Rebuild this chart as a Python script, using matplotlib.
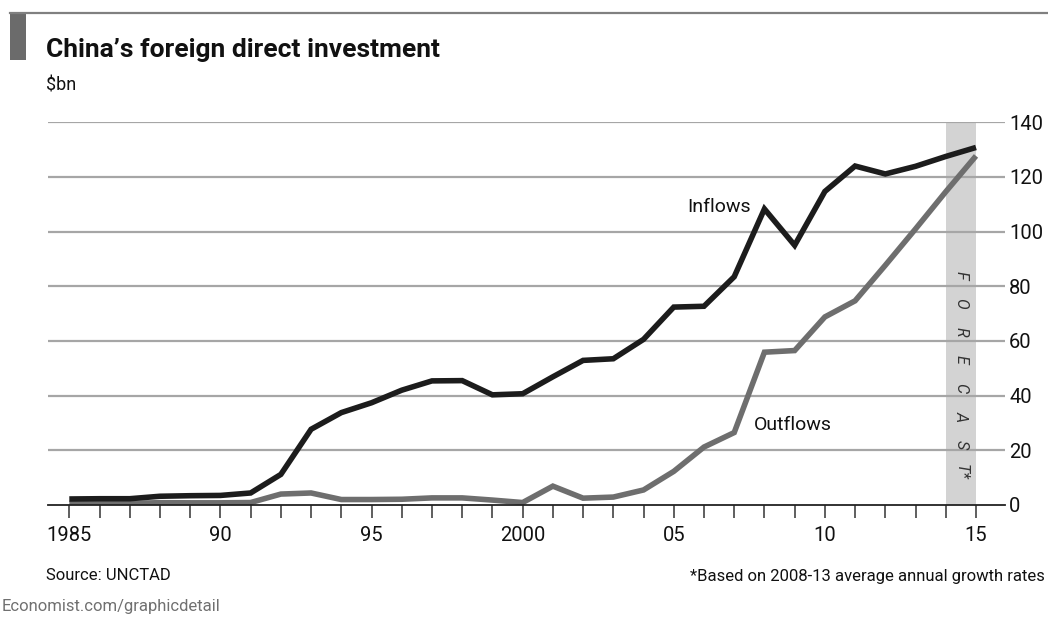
"""China's foreign direct investment, inflows vs outflows, 1985-2015 ($bn)."""

import matplotlib.pyplot as plt
from matplotlib.patches import Rectangle
from matplotlib.lines import Line2D

plt.rcParams["font.family"] = ["Roboto", "DejaVu Sans"]

years = [1985, 1986, 1987, 1988, 1989, 1990, 1991, 1992, 1993, 1994, 1995,
         1996, 1997, 1998, 1999, 2000, 2001, 2002, 2003, 2004, 2005, 2006,
         2007, 2008, 2009, 2010, 2011, 2012, 2013, 2014, 2015]
inflows = [2.2, 2.3, 2.3, 3.2, 3.4, 3.5, 4.4, 11.2, 27.7, 33.8, 37.4,
           42.0, 45.4, 45.5, 40.3, 40.7, 46.9, 52.9, 53.5, 60.6, 72.4, 72.7,
           83.5, 108.3, 95.0, 114.7, 124.0, 121.1, 123.9, 127.5, 130.8]
outflows = [0.6, 0.5, 0.6, 0.85, 0.8, 0.8, 0.9, 4.0, 4.4, 2.0, 2.0,
            2.1, 2.6, 2.6, 1.8, 0.9, 6.9, 2.5, 2.9, 5.5, 12.3, 21.2,
            26.5, 55.9, 56.5, 68.8, 74.7, 87.7, 101.0, 114.6, 127.7]
forecast_span = (2014, 2015)
forecast_word = ["F", "O", "R", "E", "C", "A", "S", "T*"]
major_years = [1985, 1990, 1995, 2000, 2005, 2010, 2015]
major_labels = ["1985", "90", "95", "2000", "05", "10", "15"]
y_ticks = [0, 20, 40, 60, 80, 100, 120, 140]

W, H = 1048, 617
fig = plt.figure(figsize=(W / 100, H / 100), dpi=100)
fig.patch.set_facecolor("white")

# axes placed in pixel terms: left 48, right 1005, zero line at 505, 140 at 122
ax = fig.add_axes([48 / W, 1 - 505 / H, (1005 - 48) / W, (505 - 122.3) / H])
ax.set_xlim(1984.295, 2015.96)
ax.set_ylim(0, 140)

# forecast band with its vertical, letter-spaced label
ax.axvspan(*forecast_span, color="#d3d3d3", lw=0, zorder=1)
for i, ch in enumerate(forecast_word):
    ax.text(sum(forecast_span) / 2, 84 - i * 10.3, ch, rotation=-90,
            ha="center", va="center", fontsize=11.5, style="italic",
            color="#333333", zorder=4)

# gridlines
for v in y_ticks[1:]:
    ax.axhline(v, color="#a6a6a6", lw=1.6, zorder=2)

ax.plot(years, outflows, color="#6e6e6e", lw=4.0, solid_joinstyle="miter",
        solid_capstyle="butt", zorder=3)
ax.plot(years, inflows, color="#1c1c1c", lw=4.0, solid_joinstyle="miter",
        solid_capstyle="butt", zorder=3)

ax.text(2006.5, 109, "Inflows", fontsize=14, color="#111111", ha="center",
        va="center", zorder=5)
ax.text(2008.95, 29.3, "Outflows", fontsize=14, color="#111111", ha="center",
        va="center", zorder=5)

for s in ["top", "left", "right"]:
    ax.spines[s].set_visible(False)
ax.spines["bottom"].set_color("#222222")
ax.spines["bottom"].set_linewidth(1.3)
ax.spines["bottom"].set_zorder(4)

ax.set_xticks(major_years)
ax.set_xticklabels(major_labels)
ax.set_xticks(years, minor=True)
ax.tick_params(axis="x", which="both", direction="out", length=9, width=1.1,
               color="#333333")
ax.tick_params(axis="x", which="major", labelsize=14.5, pad=6, labelcolor="#111111")

ax.yaxis.tick_right()
ax.set_yticks(y_ticks)
ax.tick_params(axis="y", length=0, pad=3, labelsize=14.5, labelcolor="#111111")

# header: grey rule and block
fig.add_artist(Line2D([10 / W, 1], [1 - 13 / H, 1 - 13 / H], color="#808080",
                      lw=1.6, transform=fig.transFigure))
fig.add_artist(Rectangle((10 / W, 1 - 60 / H), 16 / W, 47 / H, color="#6b6b6b",
                         transform=fig.transFigure, lw=0))

fig.text(46 / W, 1 - 50 / H, "China\u2019s foreign direct investment",
         fontsize=19, fontweight="bold", color="#111111", va="center", ha="left")
fig.text(46 / W, 1 - 85 / H, "$bn", fontsize=13, color="#111111",
         va="center", ha="left")

fig.text(46 / W, 1 - 576 / H, "Source: UNCTAD", fontsize=12, color="#111111",
         va="center", ha="left")
fig.text(1045 / W, 1 - 576 / H, "*Based on 2008-13 average annual growth rates",
         fontsize=12, color="#111111", va="center", ha="right")
fig.text(2 / W, 1 - 606 / H, "Economist.com/graphicdetail", fontsize=12,
         color="#707070", va="center", ha="left")

fig.savefig("out.png", dpi=100, facecolor="white")
